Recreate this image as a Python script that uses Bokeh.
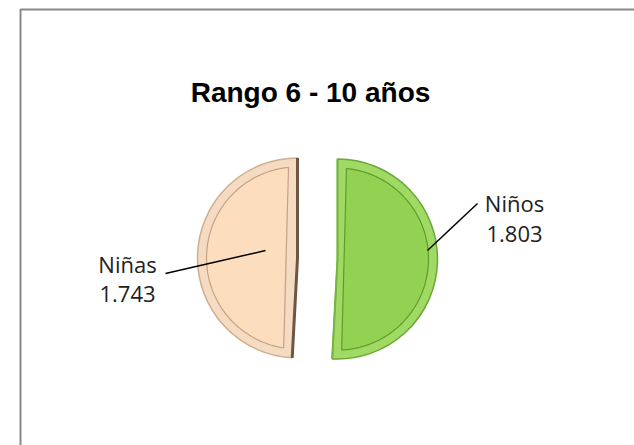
import numpy as np
from bokeh.plotting import figure
from bokeh.models import Range1d
from bokeh.embed import file_html
from bokeh.resources import INLINE
from bokeh.core.properties import value

# ---- data ----
title_text = "Rango 6 - 10 años"
categories = ["Niños", "Niñas"]
values = [1.803, 1.743]
value_labels = ["1.803", "1.743"]

# ---- styles / layout ----
face_colors = ["#93D152", "#FCDDBD"]
rim_colors = ["#A0D963", "#F4DBC2"]
rim_inner_line = ["#5E9C2B", "#C4A283"]
outer_line = ["#6AA835", "#CFAE8E"]
edge_shadow = ["#77B540", "#6E5644"]

PAGE_H = 445
def Y(py):
    return PAGE_H - py

p = figure(width=634, height=445, x_range=Range1d(0, 634), y_range=Range1d(0, 445),
           output_backend="svg", toolbar_location=None, min_border=0,
           x_axis_location=None, y_axis_location=None,
           background_fill_color="white", border_fill_color="white")
p.grid.visible = False
p.outline_line_color = None

# chart area border (cut by window at right/bottom)
p.quad(left=20, right=700, top=Y(9), bottom=Y(520), fill_color=None,
       line_color="#888888", line_width=2)

# pie geometry
cx, cy, R, explode, bevel = 317, Y(258), 100, 20, 9
total = sum(values)
start = np.pi / 2
for i, v in enumerate(values):
    span = v / total * 2 * np.pi
    end = start - span
    bis = start - span / 2
    ox = cx + explode * np.cos(bis)
    oy = cy + explode * np.sin(bis)
    # rim (outer wedge)
    p.wedge(x=ox, y=oy, radius=R, start_angle=start, end_angle=end, direction="clock",
            fill_color=rim_colors[i], line_color=outer_line[i], line_width=1.5)
    # inner face
    r_in = R - bevel
    d = np.arcsin(bevel / r_in)
    ang = np.linspace(start - d, end + d, 120)
    xs = list(ox + r_in * np.cos(ang))
    ys = list(oy + r_in * np.sin(ang))
    p.patch(xs, ys, fill_color=face_colors[i], line_color=rim_inner_line[i], line_width=1.2)
    # flat edge shading
    ex = [ox + R * np.cos(end), ox, ox + R * np.cos(start)]
    ey = [oy + R * np.sin(end), oy, oy + R * np.sin(start)]
    p.line(ex, ey, line_color=edge_shadow[i], line_width=3 if i == 1 else 2)
    start = end

# title
p.text(x=[310], y=[Y(92)], text=[title_text], text_font=value("Liberation Sans"),
       text_font_style="bold", text_font_size="28px", text_color="#000000",
       text_align="center", text_baseline="alphabetic")

# data labels with leader lines
label_x = [514, 127]
label_name_y = [Y(202), Y(263)]
label_val_y = [Y(233), Y(293)]
leader_x0 = [477, 165]
leader_y0 = [Y(203), Y(273)]
leader_x1 = [427, 265]
leader_y1 = [Y(250), Y(250)]

p.segment(x0=leader_x0, y0=leader_y0, x1=leader_x1, y1=leader_y1,
          line_color="#000000", line_width=1.5)
p.text(x=label_x, y=label_name_y, text=categories, text_font=value("Open Sans"),
       text_font_size="22px", text_color="#222222", text_align="center",
       text_baseline="alphabetic")
p.text(x=label_x, y=label_val_y, text=value_labels, text_font=value("Open Sans"),
       text_font_size="22px", text_color="#222222", text_align="center",
       text_baseline="alphabetic")

open("out.html", "w").write(file_html(p, INLINE))
